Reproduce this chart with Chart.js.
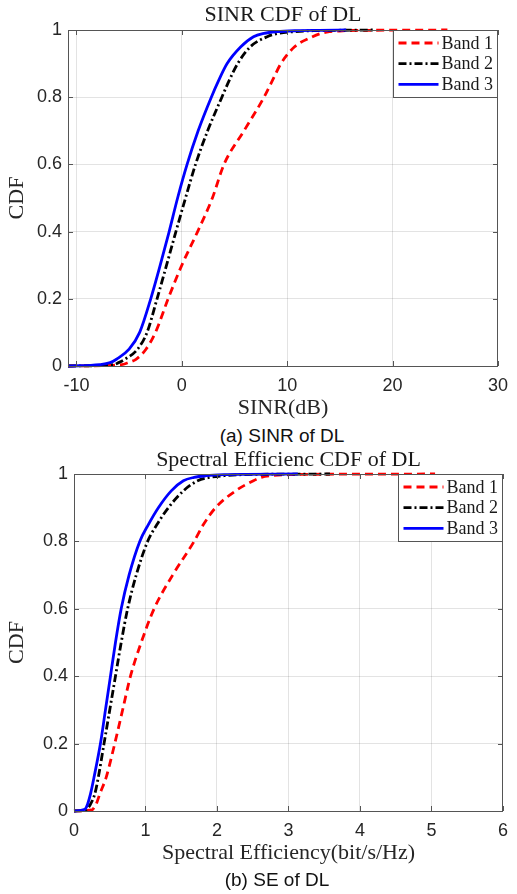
<!DOCTYPE html>
<html>
<head>
<meta charset="utf-8">
<script src="https://cdn.jsdelivr.net/npm/chart.js@4.4.1/dist/chart.umd.min.js"></script>
<style>
  body { margin: 0; width: 517px; height: 894px; background: #fff; position: relative; overflow: hidden; }
  canvas { position: absolute; left: 0; }
  .cap { position: absolute; width: 300px; text-align: center; font-family: 'Liberation Sans', Arial, sans-serif;
         font-size: 19px; line-height: 22px; color: #111; }
</style>
</head>
<body>
<canvas id="sinrChart" width="517" height="425" style="top:0"></canvas>
<div class="cap" style="left:132px; top:425px">(a) SINR of DL</div>
<canvas id="seChart" width="517" height="425" style="top:445px"></canvas>
<div class="cap" style="left:127px; top:869px">(b) SE of DL</div>
<script>
// 数据：各CDF水平对应的横坐标（分位点）
const cdfLevels = [0, 0.004, 0.01, 0.02, 0.05, 0.1, 0.2, 0.3, 0.4, 0.5, 0.6, 0.7, 0.8, 0.85, 0.9, 0.95, 0.98, 0.99, 0.995, 0.998, 0.999, 1];
const cdfTicks = [0, 0.2, 0.4, 0.6, 0.8, 1];

const sinrTicks = [-10, 0, 10, 20, 30];
const sinrBand1 = [-10.8, -5.7, -5.1, -4.35, -3.4, -2.5, -1.3, 0, 1.5, 2.9, 4.0, 5.9, 7.8, 8.6, 9.4, 10.7, 12.4, 13.2, 14.0, 15.5, 17.5, 25.2];
const sinrBand2 = [-10.8, -6.5, -6.0, -5.4, -4.2, -3.3, -2.35, -1.45, -0.56, 0.35, 1.3, 2.45, 3.8, 4.5, 5.3, 6.5, 8.1, 9.2, 10.6, 12.5, 14.5, 18.2];
const sinrBand3 = [-10.8, -7.8, -6.8, -6.2, -5.0, -4.0, -2.95, -2.05, -1.2, -0.4, 0.5, 1.55, 2.8, 3.5, 4.3, 5.6, 6.8, 7.8, 9.0, 11, 13, 15.6];

const seTicks = [0, 1, 2, 3, 4, 5, 6];
const seBand1 = [0, 0.26, 0.28, 0.31, 0.36, 0.45, 0.57, 0.68, 0.79, 0.94, 1.12, 1.38, 1.68, 1.81, 1.98, 2.26, 2.51, 2.62, 2.76, 3.0, 3.3, 5.05];
const seBand2 = [0, 0.17, 0.2, 0.23, 0.29, 0.34, 0.42, 0.5, 0.58, 0.66, 0.75, 0.87, 1.03, 1.16, 1.32, 1.53, 1.73, 1.9, 2.1, 2.35, 2.6, 3.58];
const seBand3 = [0, 0.14, 0.17, 0.19, 0.23, 0.28, 0.37, 0.44, 0.51, 0.58, 0.66, 0.77, 0.92, 1.04, 1.18, 1.36, 1.53, 1.68, 1.85, 2.1, 2.4, 3.13];

const bandLabels = ['Band 1', 'Band 2', 'Band 3'];

const AXIS_COLOR = '#555555';
const TEXT_COLOR = '#262626';
const SERIF = "'Liberation Serif', 'Times New Roman', serif";
const SANS = "'Liberation Sans', Arial, sans-serif";

// MATLAB 风格的边框、内向刻度和图例
const matlabBox = {
    id: 'matlabBox',
    afterDatasetsDraw(chart) {
        const ctx = chart.ctx;
        const a = chart.chartArea;
        const x = chart.scales.x, y = chart.scales.y;
        ctx.save();
        ctx.strokeStyle = AXIS_COLOR;
        ctx.lineWidth = 1;
        ctx.setLineDash([]);
        ctx.beginPath();
        x.ticks.forEach(t => {
            const px = Math.round(x.getPixelForValue(t.value)) + 0.5;
            ctx.moveTo(px, a.bottom); ctx.lineTo(px, a.bottom - 5);
            ctx.moveTo(px, a.top); ctx.lineTo(px, a.top + 5);
        });
        y.ticks.forEach(t => {
            const py = Math.round(y.getPixelForValue(t.value)) + 0.5;
            ctx.moveTo(a.left, py); ctx.lineTo(a.left + 5, py);
            ctx.moveTo(a.right, py); ctx.lineTo(a.right - 5, py);
        });
        ctx.stroke();
        ctx.strokeRect(Math.round(a.left) + 0.5, Math.round(a.top) + 0.5,
                       Math.round(a.right - a.left) - 1, Math.round(a.bottom - a.top));

        // 图例
        const bw = 105, bh = 67;
        const bx = Math.round(a.right - bw) + 0.5, by = Math.round(a.top) + 0.5;
        ctx.fillStyle = '#fff';
        ctx.fillRect(bx, by, bw - 1, bh);
        ctx.strokeRect(bx, by, bw - 1, bh);
        ctx.font = '18px ' + SERIF;
        ctx.textBaseline = 'middle';
        chart.data.datasets.forEach((ds, i) => {
            const ly = by + 12.5 + i * 20.7;
            ctx.strokeStyle = ds.borderColor;
            ctx.lineWidth = ds.borderWidth;
            ctx.setLineDash(ds.borderDash || []);
            ctx.beginPath();
            ctx.moveTo(bx + 5, ly); ctx.lineTo(bx + 45, ly);
            ctx.stroke();
            ctx.fillStyle = '#1a1a1a';
            ctx.fillText(ds.label, bx + 48, ly + 1);
        });
        ctx.restore();
    }
};

function makeSeries(xs, levels, label, color, dash, order) {
    return {
        label: label,
        data: xs.map((v, i) => ({ x: v, y: levels[i] })),
        borderColor: color,
        borderWidth: 2.8,
        borderDash: dash,
        pointRadius: 0,
        cubicInterpolationMode: 'monotone',
        fill: false,
        clip: false,
        order: order
    };
}

function makeChart(id, opts) {
    const datasets = [
        makeSeries(opts.band1, cdfLevels, bandLabels[0], '#ff0000', [8, 5], 2),
        makeSeries(opts.band2, cdfLevels, bandLabels[1], '#000000', [8, 3, 2, 3], 1),
        makeSeries(opts.band3, cdfLevels, bandLabels[2], '#0000ff', [], 0)
    ];
    return new Chart(document.getElementById(id), {
        type: 'line',
        data: { datasets: datasets },
        plugins: [matlabBox],
        options: {
            responsive: false,
            animation: false,
            layout: { padding: 0 },
            plugins: { legend: { display: false }, tooltip: { enabled: false } },
            scales: {
                x: {
                    type: 'linear',
                    position: 'bottom',
                    min: opts.xMin, max: opts.xMax,
                    afterBuildTicks: s => { s.ticks = opts.xTicks.map(v => ({ value: v })); },
                    afterFit: s => { s.height = 425 - 366; },
                    grid: { color: 'rgba(0,0,0,0.11)', drawTicks: false },
                    border: { display: false },
                    ticks: { padding: 9, color: TEXT_COLOR, font: { family: SANS, size: 18 }, maxRotation: 0,
                             callback: v => String(v) },
                    title: { display: true, text: opts.xTitle, color: TEXT_COLOR,
                             font: { family: SERIF, size: 22 }, padding: { top: 0, bottom: 4 } }
                },
                top: {
                    type: 'linear',
                    position: 'top',
                    min: opts.xMin, max: opts.xMax,
                    afterFit: s => { s.height = opts.top; },
                    grid: { display: false },
                    border: { display: false },
                    ticks: { display: false },
                    title: { display: true, text: opts.title, color: '#1a1a1a',
                             font: { family: SERIF, size: 22 }, padding: { top: 2, bottom: 0 } }
                },
                y: {
                    type: 'linear',
                    position: 'left',
                    min: 0, max: 1,
                    afterBuildTicks: s => { s.ticks = cdfTicks.map(v => ({ value: v })); },
                    afterFit: s => { s.width = opts.left; },
                    grid: { color: 'rgba(0,0,0,0.11)', drawTicks: false },
                    border: { display: false },
                    ticks: { padding: 6, color: TEXT_COLOR, font: { family: SANS, size: 18 },
                             callback: v => String(v) },
                    title: { display: true, text: 'CDF', color: TEXT_COLOR,
                             font: { family: SERIF, size: 22 }, padding: { top: 4, bottom: 0 } }
                },
                right: {
                    type: 'linear',
                    position: 'right',
                    min: 0, max: 1,
                    afterFit: s => { s.width = opts.right; },
                    grid: { display: false },
                    border: { display: false },
                    ticks: { display: false }
                }
            }
        }
    });
}

makeChart('sinrChart', {
    band1: sinrBand1, band2: sinrBand2, band3: sinrBand3,
    xMin: -10.8, xMax: 30, xTicks: sinrTicks,
    xTitle: 'SINR(dB)', title: 'SINR CDF of DL',
    left: 68, right: 12, top: 30
});

makeChart('seChart', {
    band1: seBand1, band2: seBand2, band3: seBand3,
    xMin: 0, xMax: 6, xTicks: seTicks,
    xTitle: 'Spectral Efficiency(bit/s/Hz)', title: 'Spectral Efficienc CDF of DL',
    left: 74, right: 6, top: 29
});
</script>
</body>
</html>
